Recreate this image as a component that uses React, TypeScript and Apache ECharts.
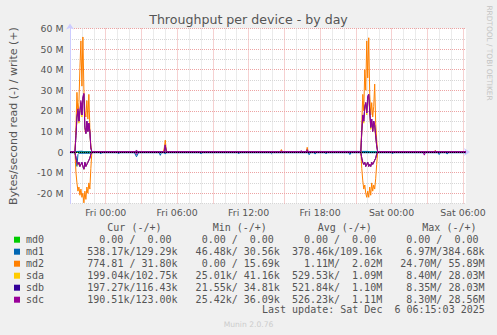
import React, { useEffect, useRef } from 'react';
import * as echarts from 'echarts';

// time axis: minutes after Thu 21:00 (5-minute samples)
const xMin = 0;
const xMax = 1995;
const xTickMinutes = [180, 540, 900, 1260, 1620, 1980];
const xTickLabels = ['Fri 00:00', 'Fri 06:00', 'Fri 12:00', 'Fri 18:00', 'Sat 00:00', 'Sat 06:00'];
const yTickValues = [-20, -10, 0, 10, 20, 30, 40, 50, 60]; // in M
const yTickLabels = ['-20 M', '-10 M', '0', '10 M', '20 M', '30 M', '40 M', '50 M', '60 M'];

const title = 'Throughput per device - by day';
const yName = 'Bytes/second read (-) / write (+)';

const deviceNames = ['md0', 'md1', 'md2', 'sda', 'sdb', 'sdc'];
const deviceColors = ['#00cc00', '#0066b3', '#ff8000', '#ffcc00', '#330099', '#990099'];

// values in MB/s  [minute, value]; read values are drawn below zero
const md0Read = [[0, 0], [1995, 0]];
const md0Write = [[0, 0], [1995, 0]];

const md1Read = [
  [0, 0.35], [25, 0.35], [30, 2.5], [35, 6.97], [40, 1.2], [45, 0.6], [110, 0.6], [115, 0.35],
  [150, 0.35], [155, 0.9], [160, 0.35], [240, 0.35], [245, 0.9], [250, 0.35],
  [325, 0.35], [335, 2.3], [345, 0.35],
  [450, 0.35], [455, 1.6], [460, 0.35], [475, 0.35], [480, 1.0], [485, 0.35],
  [655, 0.35], [660, 0.9], [665, 0.35], [845, 0.35], [850, 0.9], [855, 0.35],
  [1010, 0.35], [1015, 0.8], [1020, 0.35],
  [1200, 0.35], [1205, 1.3], [1210, 0.35], [1230, 0.35], [1235, 1.0], [1240, 0.35],
  [1285, 0.35], [1290, 0.9], [1295, 0.35], [1405, 0.35], [1410, 1.2], [1415, 0.35],
  [1620, 0.35], [1625, 0.9], [1630, 0.35],
  [1855, 0.35], [1860, 1.2], [1865, 0.35], [1895, 0.35], [1900, 1.0], [1905, 0.35], [1995, 0.35],
];
const md1Write = [[0, 0.11], [60, 0.38], [70, 0.11], [1500, 0.3], [1510, 0.11], [1995, 0.13]];

const md2Read = [
  [0, 0], [25, 0], [30, 10], [35, 15], [40, 19], [45, 17], [50, 21], [55, 18], [60, 22], [65, 20],
  [70, 24.7], [75, 19], [80, 23], [85, 17], [90, 20], [95, 15], [100, 18], [105, 8], [110, 0.2], [115, 0],
  [1465, 0], [1470, 8], [1475, 14], [1480, 18], [1485, 16], [1490, 20], [1495, 22], [1500, 19], [1505, 22],
  [1510, 17], [1515, 21], [1520, 15], [1525, 19], [1530, 16], [1535, 18], [1540, 13], [1545, 6], [1550, 0.2],
  [1555, 0], [1995, 0],
];
const md2Write = [
  [0, 0.03], [25, 0.03], [30, 12], [35, 29], [40, 18], [45, 24], [50, 41], [55, 54], [60, 32], [65, 55.89],
  [70, 30], [75, 20], [80, 17], [85, 25], [90, 16], [95, 28], [100, 12], [105, 3], [110, 0.05],
  [470, 0.03], [475, 2], [480, 5.8], [485, 1], [490, 0.03],
  [1060, 0.03], [1065, 1.2], [1070, 0.03], [1190, 0.03], [1195, 2.3], [1200, 0.03],
  [1465, 0.03], [1470, 14], [1475, 28], [1480, 20], [1485, 40], [1490, 30], [1495, 54], [1500, 36], [1505, 55.5],
  [1510, 28], [1515, 18], [1520, 24], [1525, 17], [1530, 22], [1535, 33], [1540, 14], [1545, 6], [1550, 0.05],
  [1835, 0.03], [1840, 0.8], [1845, 0.03], [1995, 0.03],
];

const sdaRead = [
  [0, 0.2], [25, 0.2], [30, 3], [35, 5], [40, 6.5], [45, 5], [50, 7], [55, 6], [60, 5.5], [65, 7], [70, 8.4],
  [75, 5], [80, 7], [85, 6], [90, 5], [95, 4], [100, 3], [105, 1], [110, 0.2],
  [1465, 0.2], [1470, 3], [1475, 5], [1480, 6], [1485, 5], [1490, 7], [1495, 6], [1500, 5], [1505, 7], [1510, 6],
  [1515, 7], [1520, 5], [1525, 6], [1530, 5], [1535, 4], [1540, 3], [1545, 1], [1550, 0.2], [1995, 0.2],
];
const sdaWrite = [
  [0, 0.1], [25, 0.1], [30, 8], [35, 16], [40, 20], [45, 14], [50, 19], [55, 24], [60, 17], [65, 26], [70, 28.03],
  [75, 11], [80, 9], [85, 14], [90, 10], [95, 13], [100, 9], [105, 2], [110, 0.1],
  [475, 0.1], [480, 3], [485, 0.1], [1190, 0.1], [1195, 1], [1200, 0.1],
  [1465, 0.1], [1470, 9], [1475, 17], [1480, 14], [1485, 21], [1490, 23], [1495, 18], [1500, 26], [1505, 27],
  [1510, 19], [1515, 11], [1520, 15], [1525, 10], [1530, 14], [1535, 12], [1540, 7], [1545, 3], [1550, 0.1], [1995, 0.1],
];
const sdbRead = [
  [0, 0.2], [25, 0.2], [30, 3], [35, 5], [40, 6], [45, 5], [50, 7], [55, 6], [60, 5], [65, 7], [70, 8.35],
  [75, 5], [80, 7], [85, 6], [90, 5], [95, 4], [100, 3], [105, 1], [110, 0.2],
  [1465, 0.2], [1470, 3], [1475, 5], [1480, 6], [1485, 5], [1490, 7], [1495, 6], [1500, 5], [1505, 7], [1510, 6],
  [1515, 7], [1520, 5], [1525, 6], [1530, 5], [1535, 4], [1540, 3], [1545, 1], [1550, 0.2], [1995, 0.2],
];
const sdbWrite = [
  [0, 0.12], [25, 0.12], [30, 8], [35, 17], [40, 20], [45, 15], [50, 20], [55, 24], [60, 18], [65, 26], [70, 28.03],
  [75, 12], [80, 9], [85, 15], [90, 10], [95, 14], [100, 10], [105, 2], [110, 0.12],
  [475, 0.12], [480, 3.2], [485, 0.12],
  [1465, 0.12], [1470, 10], [1475, 18], [1480, 15], [1485, 22], [1490, 24], [1495, 19], [1500, 27], [1505, 28],
  [1510, 20], [1515, 12], [1520, 16], [1525, 10], [1530, 15], [1535, 13], [1540, 8], [1545, 3], [1550, 0.12], [1995, 0.12],
];
const sdcRead = [
  [0, 0.19], [25, 0.19], [30, 3], [35, 5], [40, 6], [45, 5], [50, 7], [55, 6], [60, 5], [65, 7], [70, 8.3],
  [75, 5], [80, 7], [85, 6], [90, 5], [95, 4], [100, 3], [105, 1], [110, 0.19],
  [330, 0.19], [335, 1.2], [340, 0.19],
  [1465, 0.19], [1470, 3], [1475, 5], [1480, 6], [1485, 5], [1490, 7], [1495, 6], [1500, 5], [1505, 7], [1510, 6],
  [1515, 7], [1520, 5], [1525, 6], [1530, 5], [1535, 4], [1540, 3], [1545, 1], [1550, 0.19],
  [1780, 0.19], [1785, 1.5], [1790, 0.19], [1995, 0.19],
];
const sdcWrite = [
  [0, 0.12], [25, 0.12], [30, 8], [35, 17], [40, 21], [45, 15], [50, 20], [55, 25], [60, 18], [65, 27], [70, 28.56],
  [75, 12], [80, 9], [85, 15], [90, 10], [95, 14], [100, 10], [105, 2], [110, 0.12],
  [330, 0.12], [335, 1.0], [340, 0.12], [475, 0.12], [480, 3.5], [485, 0.12],
  [1060, 0.12], [1065, 0.6], [1070, 0.12], [1160, 0.12], [1165, 0.7], [1170, 0.12],
  [1190, 0.12], [1195, 1.2], [1200, 0.12],
  [1465, 0.12], [1470, 10], [1475, 18], [1480, 15], [1485, 22], [1490, 24], [1495, 19], [1500, 27], [1505, 28],
  [1510, 20], [1515, 12], [1520, 16], [1525, 10], [1530, 15], [1535, 13], [1540, 8], [1545, 3], [1550, 0.12],
  [1835, 0.12], [1840, 0.5], [1845, 0.12], [1995, 0.12],
];

const readData = [md0Read, md1Read, md2Read, sdaRead, sdbRead, sdcRead];
const writeData = [md0Write, md1Write, md2Write, sdaWrite, sdbWrite, sdcWrite];

// legend table (read / write)
const colHeaders = ['Cur (-/+)', 'Min (-/+)', 'Avg (-/+)', 'Max (-/+)'];
const curVals = [['0.00', '0.00'], ['538.17k', '129.29k'], ['774.81', '31.80k'], ['199.04k', '102.75k'], ['197.27k', '116.43k'], ['190.51k', '123.00k']];
const minVals = [['0.00', '0.00'], ['46.48k', '30.56k'], ['0.00', '15.69k'], ['25.01k', '41.16k'], ['21.55k', '34.81k'], ['25.42k', '36.09k']];
const avgVals = [['0.00', '0.00'], ['378.46k', '109.16k'], ['1.11M', '2.02M'], ['529.53k', '1.09M'], ['521.84k', '1.10M'], ['526.23k', '1.11M']];
const maxVals = [['0.00', '0.00'], ['6.97M', '384.68k'], ['24.70M', '55.89M'], ['8.40M', '28.03M'], ['8.35M', '28.03M'], ['8.30M', '28.56M']];
const lastUpdate = 'Last update: Sat Dec  6 06:15:03 2025';
const footer = 'Munin 2.0.76';
const sideText = 'RRDTOOL / TOBI OETIKER';

const M = 1e6;

export default function App() {
  const ref = useRef<HTMLDivElement>(null);
  useEffect(() => {
    if (!ref.current) return;
    const chart = echarts.init(ref.current, null, { renderer: 'svg' });
    const textColor = '#555';
    const mono = '"DejaVu Sans Mono", monospace';
    const sans = '"DejaVu Sans", sans-serif';
    const cw = 6.02;
    const colStarts = [87.3, 189.6, 291.9, 394.2];
    const headerX = [107.3, 212.7, 317.7, 422.3];
    const rowY = [239.7, 251.7, 263.7, 275.7, 287.7, 299.7];
    const cols = [curVals, minVals, avgVals, maxVals];

    const g: any[] = [];
    const txt = (text: string, x: number, y: number, align: string, font: string, fill = textColor) => ({
      type: 'text', silent: true,
      style: { text, x, y, align, verticalAlign: 'middle', textAlign: align, textVerticalAlign: 'middle', font, fill },
    });
    colHeaders.forEach((h, i) => g.push(txt(h, headerX[i], 227.3, 'left', `10px ${mono}`)));
    deviceNames.forEach((n, r) => {
      g.push({ type: 'rect', silent: true, shape: { x: 14, y: rowY[r] - 3, width: 6, height: 6 }, style: { fill: deviceColors[r] } });
      g.push(txt(n, 26, rowY[r], 'left', `10px ${mono}`));
      cols.forEach((col, c) => {
        const X = colStarts[c];
        const [rd, wr] = col[r];
        const unit = (s: string) => /[a-zA-Z]$/.test(s);
        g.push(txt(rd, X + (unit(rd) ? 7 : 6) * cw, rowY[r], 'right', `10px ${mono}`));
        g.push(txt('/', X + 7 * cw, rowY[r], 'left', `10px ${mono}`));
        g.push(txt(wr, X + (unit(wr) ? 15 : 14) * cw, rowY[r], 'right', `10px ${mono}`));
      });
    });
    g.push(txt(lastUpdate, 262, 309.7, 'left', `10px ${mono}`));
    g.push(txt(footer, 248.5, 324, 'center', `7.6px ${sans}`, '#cccccc'));
    g.push({
      type: 'text', silent: true, x: 489, y: 53, rotation: -Math.PI / 2,
      style: { text: sideText, x: 0, y: 0, align: 'center', verticalAlign: 'middle', textAlign: 'center', textVerticalAlign: 'middle', font: `7.4px ${sans}`, fill: '#c4c4c4' },
    });

    const series: any[] = [];
    deviceNames.forEach((n, i) => {
      series.push({
        name: n + ' read', type: 'line', showSymbol: false, symbol: 'none', silent: true,
        lineStyle: { width: 1, color: deviceColors[i] }, itemStyle: { color: deviceColors[i] },
        data: readData[i].map(([t, v]) => [t, -v * M]),
      });
      series.push({
        name: n + ' write', type: 'line', showSymbol: false, symbol: 'none', silent: true,
        lineStyle: { width: 1, color: deviceColors[i] }, itemStyle: { color: deviceColors[i] },
        data: writeData[i].map(([t, v]) => [t, v * M]),
      });
    });
    series[series.length - 1].markLine = {
      silent: true, symbol: 'none', label: { show: false },
      lineStyle: { color: '#000', width: 1, type: [1, 1] },
      data: [{ yAxis: 0 }],
    };

    const gridRed = '#eda3a3';
    const gridGray = '#d6d6d6';
    const axisCol = '#ccccff';

    chart.setOption({
      animation: false,
      backgroundColor: '#f0f0f0',
      title: {
        text: title, left: 'center', top: 12.5, padding: 0,
        textStyle: { fontFamily: sans, fontSize: 12.6, fontWeight: 'normal', color: textColor },
      },
      grid: { left: 67, top: 28.5, width: 399, height: 175, show: true, backgroundColor: '#ffffff', borderWidth: 0 },
      xAxis: {
        type: 'value', min: xMin, max: xMax, interval: 60,
        axisLine: { show: true, lineStyle: { color: axisCol, width: 1 }, symbol: ['none', 'arrow'], symbolSize: [6, 6], symbolOffset: [0, 4] },
        axisTick: { show: false },
        axisLabel: {
          margin: 4, fontSize: 9.4, color: textColor, fontFamily: sans, showMaxLabel: false,
          formatter: (v: number) => { const i = xTickMinutes.indexOf(Math.round(v)); return i >= 0 ? xTickLabels[i] : ''; },
        },
        splitLine: { show: true, showMaxLine: false, lineStyle: { color: [gridRed, gridGray, gridGray], type: [1, 1], width: 1 } },
      },
      yAxis: {
        type: 'value', min: -25 * M, max: 60 * M, interval: 5 * M,
        name: yName, nameLocation: 'middle', nameGap: 51, nameRotate: 90,
        nameTextStyle: { fontFamily: sans, fontSize: 11, color: textColor },
        axisLine: { show: true, lineStyle: { color: axisCol, width: 1 }, symbol: ['none', 'arrow'], symbolSize: [6, 6], symbolOffset: [0, 5] },
        axisTick: { show: false },
        axisLabel: {
          margin: 6.5, fontSize: 9.4, color: textColor, fontFamily: sans,
          formatter: (v: number) => { const i = yTickValues.indexOf(Math.round(v / M)); return i >= 0 && Math.abs(v / M - yTickValues[i]) < 1e-6 ? yTickLabels[i] : ''; },
        },
        splitLine: { show: true, lineStyle: { color: [gridGray, gridRed], type: [1, 1], width: 1 } },
      },
      graphic: g,
      series,
    });
    return () => chart.dispose();
  }, []);
  return <div ref={ref} style={{ position: 'fixed', left: 0, top: 0, width: 497, height: 335 }} />;
}
